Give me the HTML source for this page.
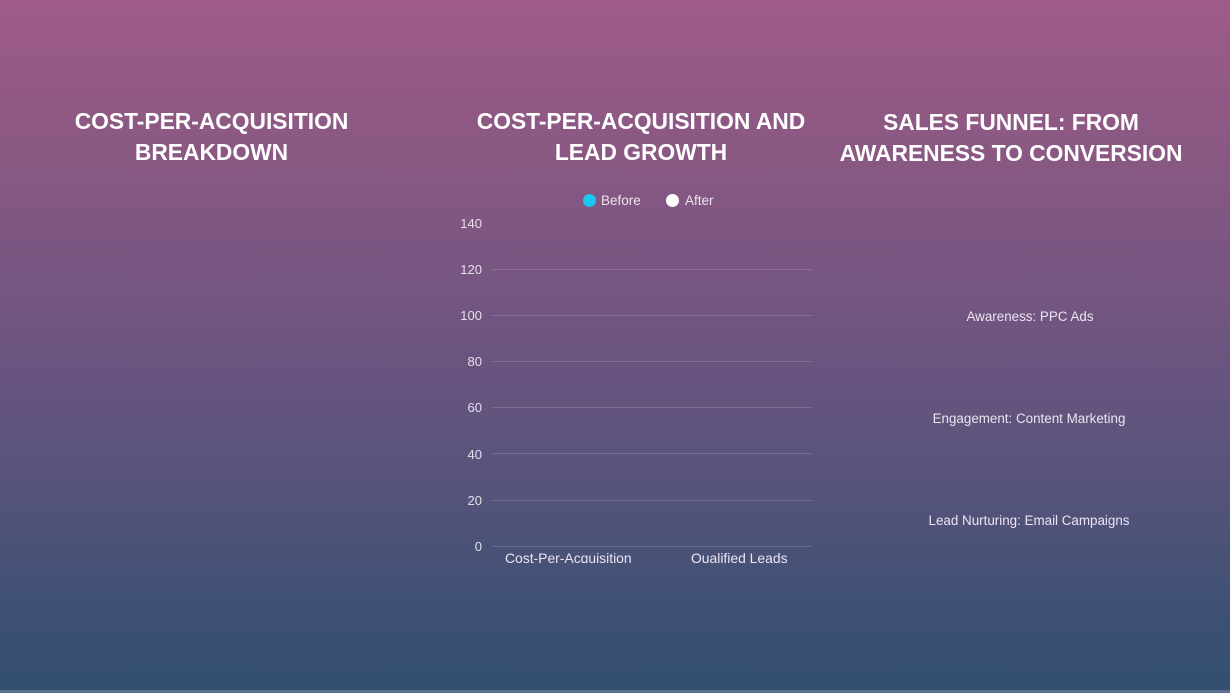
<!DOCTYPE html>
<html>
<head>
<meta charset="utf-8">
<style>
  html,body{margin:0;padding:0;}
  body{width:1230px;height:693px;overflow:hidden;position:relative;
    background:linear-gradient(180deg,#9f5b88 0%,#8a5883 22%,#6e5580 48%,#54537a 72%,#3c5074 90%,#334f70 100%);
    font-family:"Liberation Sans",sans-serif;}
  .title{position:absolute;color:#fff;font-weight:bold;font-size:22.8px;line-height:31px;text-align:center;white-space:nowrap;}
  .t{position:absolute;color:#ece4f0;font-size:13.4px;white-space:nowrap;}
  .ylab{position:absolute;color:#e6dfec;font-size:13px;text-align:right;width:40px;left:442px;}
  .grid{position:absolute;left:492px;width:320px;height:0;border-top:1px solid rgba(255,255,255,0.16);}
  .dot{position:absolute;width:13px;height:13px;border-radius:50%;}
  .bottomline{position:absolute;left:0;top:690px;width:1230px;height:3px;background:#5a7192;}
</style>
</head>
<body>
  <div class="title" style="left:0;width:423px;top:106px;">COST-PER-ACQUISITION<br>BREAKDOWN</div>
  <div class="title" style="left:440px;width:402px;top:106px;">COST-PER-ACQUISITION AND<br>LEAD GROWTH</div>
  <div class="title" style="left:811px;width:400px;top:107px;">SALES FUNNEL: FROM<br>AWARENESS TO CONVERSION</div>

  <!-- legend -->
  <div class="dot" style="left:583px;top:194px;background:#1cc6ef;"></div>
  <div class="t" style="left:601px;top:193px;font-size:13.5px;">Before</div>
  <div class="dot" style="left:666px;top:194px;background:#ffffff;"></div>
  <div class="t" style="left:685px;top:193px;font-size:13.5px;">After</div>

  <!-- y axis -->
  <div class="ylab" style="top:216px;">140</div>
  <div class="ylab" style="top:262px;">120</div>
  <div class="ylab" style="top:308px;">100</div>
  <div class="ylab" style="top:354px;">80</div>
  <div class="ylab" style="top:400px;">60</div>
  <div class="ylab" style="top:447px;">40</div>
  <div class="ylab" style="top:493px;">20</div>
  <div class="ylab" style="top:539px;">0</div>

  <div class="grid" style="top:269px;"></div>
  <div class="grid" style="top:315px;"></div>
  <div class="grid" style="top:361px;"></div>
  <div class="grid" style="top:407px;"></div>
  <div class="grid" style="top:453px;"></div>
  <div class="grid" style="top:500px;"></div>
  <div class="grid" style="top:546px;"></div>

  <!-- x labels (clipped) -->
  <div style="position:absolute;left:440px;top:548px;width:400px;height:15px;overflow:hidden;">
    <div class="t" style="left:65px;top:2px;font-size:13.9px;">Cost-Per-Acquisition</div>
    <div class="t" style="left:251px;top:2px;font-size:13.9px;">Qualified Leads</div>
  </div>

  <!-- funnel labels -->
  <div class="t" style="left:880px;width:300px;text-align:center;top:309px;">Awareness: PPC Ads</div>
  <div class="t" style="left:879px;width:300px;text-align:center;top:411px;">Engagement: Content Marketing</div>
  <div class="t" style="left:879px;width:300px;text-align:center;top:513px;">Lead Nurturing: Email Campaigns</div>

  <div class="bottomline"></div>
</body>
</html>
